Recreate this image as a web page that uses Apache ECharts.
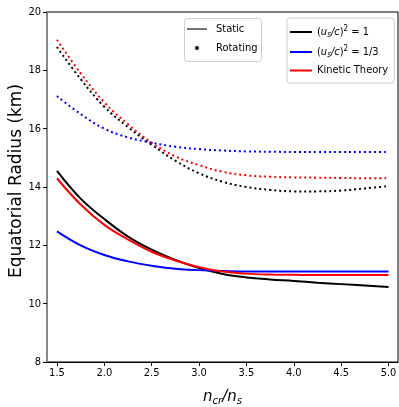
<!DOCTYPE html>
<html>
<head>
<meta charset="utf-8">
<script src="https://cdn.jsdelivr.net/npm/echarts@6/dist/echarts.min.js"></script>
<style>
  html, body { margin: 0; padding: 0; background: #fff; }
  #main { width: 399px; height: 407px; }
</style>
</head>
<body>
<div id="main"></div>
<script>
// n_cr / n_s
const xs = [1.5, 1.75, 2.0, 2.25, 2.5, 2.75, 3.0, 3.25, 3.5, 3.75, 4.0, 4.25, 4.5, 4.75, 5.0];
const xTicks = [1.5, 2.0, 2.5, 3.0, 3.5, 4.0, 4.5, 5.0];

// static (solid)
const staticStiff = [14.55, 13.6, 12.9, 12.3, 11.85, 11.5, 11.22, 11.02, 10.9, 10.83, 10.78, 10.72, 10.67, 10.62, 10.57];
const staticSoft = [12.48, 12.0, 11.67, 11.45, 11.3, 11.2, 11.15, 11.12, 11.1, 11.1, 11.1, 11.1, 11.1, 11.1, 11.1];
const staticKin = [14.3, 13.4, 12.7, 12.2, 11.78, 11.48, 11.25, 11.1, 11.03, 11.0, 10.99, 10.98, 10.98, 10.98, 10.98];

// rotating (dotted)
const rotStiff = [18.8, 17.7, 16.75, 16.05, 15.45, 14.9, 14.47, 14.18, 14.0, 13.9, 13.85, 13.85, 13.88, 13.95, 14.03];
const rotSoft = [17.12, 16.5, 16.0, 15.7, 15.52, 15.38, 15.3, 15.25, 15.22, 15.21, 15.2, 15.2, 15.2, 15.2, 15.2];
const rotKin = [19.05, 17.9, 16.9, 16.15, 15.52, 15.05, 14.75, 14.52, 14.4, 14.35, 14.33, 14.32, 14.31, 14.3, 14.3];

const names = ['stiff', 'soft', 'kin'];
const colors = ['#000000', '#0000ff', '#ff0000'];

function pairs(ys) {
  return xs.map((x, i) => [x, ys[i]]);
}

const font = 'DejaVu Sans Condensed, Liberation Sans Narrow, DejaVu Sans';

const rich = {
  n: { fontFamily: font, fontSize: 11, color: '#000' },
  i: { fontFamily: font, fontSize: 11, fontStyle: 'italic', color: '#000' },
  sub: { fontFamily: font, fontSize: 8, fontStyle: 'italic', color: '#000', verticalAlign: 'bottom', padding: [6, 0, 0, 0] },
  sup: { fontFamily: font, fontSize: 8, color: '#000', verticalAlign: 'top', padding: [0, 0, 6, 0] }
};

function legendLabel(name) {
  if (name === 'stiff') return '{n|(}{i|u}{sub|s}{i|/c}{n|)}{sup|2}{n| = 1}';
  if (name === 'soft') return '{n|(}{i|u}{sub|s}{i|/c}{n|)}{sup|2}{n| = 1/3}';
  return '{n|Kinetic Theory}';
}

const series = [];
[staticStiff, staticSoft, staticKin].forEach((ys, k) => {
  series.push({
    name: names[k],
    type: 'line',
    data: pairs(ys),
    smooth: 0.4,
    showSymbol: false,
    color: colors[k],
    lineStyle: { width: 2, color: colors[k] },
    z: 3
  });
});
[rotStiff, rotSoft, rotKin].forEach((ys, k) => {
  series.push({
    name: 'rot_' + names[k],
    type: 'line',
    data: pairs(ys),
    smooth: 0.4,
    showSymbol: false,
    color: colors[k],
    lineStyle: { width: 2, color: colors[k], type: [2, 3] },
    z: 3
  });
});

const chart = echarts.init(document.getElementById('main'), null, { renderer: 'canvas' });
chart.setOption({
  animation: false,
  backgroundColor: '#fff',
  grid: {
    left: 47, right: 1, top: 12, bottom: 45,
    outerBoundsMode: 'none',
    containLabel: false,
    show: true, borderColor: '#000', borderWidth: 1
  },
  xAxis: {
    type: 'value',
    min: 1.395,
    max: 5.1,
    name: '{i|n}{sub|cr}{i|/n}{sub|s}',
    nameLocation: 'middle',
    nameGap: 26,
    nameTextStyle: {
      rich: {
        i: { fontFamily: 'DejaVu Sans', fontSize: 15, fontStyle: 'italic', color: '#000' },
        sub: { fontFamily: 'DejaVu Sans', fontSize: 10, fontStyle: 'italic', color: '#000', verticalAlign: 'bottom', padding: [8, 0, 0, 0] }
      }
    },
    axisLine: { show: true, lineStyle: { color: '#000', width: 1 } },
    axisTick: { show: true, length: 4, lineStyle: { color: '#000' }, customValues: xTicks },
    axisLabel: {
      customValues: xTicks,
      formatter: v => v.toFixed(1),
      fontFamily: font, fontSize: 11, color: '#000', margin: 6
    },
    splitLine: { show: false }
  },
  yAxis: {
    type: 'value',
    min: 8,
    max: 20,
    interval: 2,
    name: 'Equatorial Radius (km)',
    nameLocation: 'middle',
    nameGap: 22,
    nameMoveOverlap: false,
    nameTextStyle: { fontFamily: 'DejaVu Sans', fontSize: 17, color: '#000', padding: [0, 0, 0, 12] },
    axisLine: { show: true, lineStyle: { color: '#888', width: 2 } },
    axisTick: { show: true, length: 4, lineStyle: { color: '#000' } },
    axisLabel: { fontFamily: font, fontSize: 11, color: '#000', margin: 6 },
    splitLine: { show: false }
  },
  legend: {
    orient: 'vertical',
    left: 287,
    top: 18,
    data: names,
    icon: 'rect',
    itemWidth: 22,
    itemHeight: 2,
    itemGap: 6,
    padding: [7, 6, 7, 3],
    backgroundColor: '#fff',
    borderColor: '#ccc',
    borderWidth: 1,
    borderRadius: 3,
    selectedMode: false,
    formatter: legendLabel,
    textStyle: { rich: rich }
  },
  graphic: [
    { type: 'rect', left: 184, top: 18, shape: { width: 77, height: 43, r: 3 },
      style: { fill: '#fff', stroke: '#ccc', lineWidth: 1 }, z: 10 },
    { type: 'line', shape: { x1: 187, y1: 29, x2: 207, y2: 29 },
      style: { stroke: '#444', lineWidth: 1.5 }, z: 11 },
    { type: 'circle', shape: { cx: 197, cy: 48, r: 2 },
      style: { fill: '#000' }, z: 11 },
    { type: 'text', x: 216, y: 29, style: { text: 'Static', fontFamily: font, fontSize: 11, fill: '#000', verticalAlign: 'middle' }, z: 11 },
    { type: 'text', x: 216, y: 48, style: { text: 'Rotating', fontFamily: font, fontSize: 11, fill: '#000', verticalAlign: 'middle' }, z: 11 }
  ],
  series: series
});
</script>
</body>
</html>
